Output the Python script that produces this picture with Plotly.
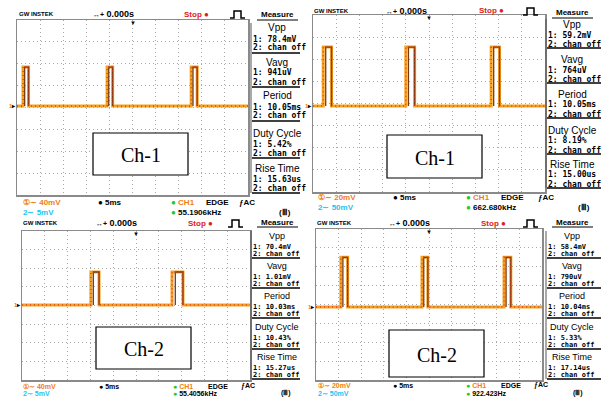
import plotly.graph_objects as go

# ---------------- data ----------------
TIME_RANGE_MS = [-25, 25]          # 10 div x 5 ms
TIMEBASE = "5ms"
VOLTS_PER_DIV = [40, 20, 40, 20]   # mV/div, CH1, per panel
CH1_SCALE = ["40mV", "20mV", "40mV", "20mV"]
CH2_SCALE = ["5mV", "50mV", "5mV", "50mV"]
FREQ = ["55.1906kHz", "662.680kHz", "55.4056kHz", "922.423Hz"]
LABELS = ["Ch-1", "Ch-1", "Ch-2", "Ch-2"]

P1_PULSE_START_MS = [-23.7, -5.5, 12.7]
P1_PULSE_WIDTH_MS = [1.2, 1.2, 1.3]
P2_PULSE_START_MS = [-22.8, -5.0, 13.4]
P2_PULSE_WIDTH_MS = [1.8, 1.9, 1.8]
P3_PULSE_START_MS = [-9.9, 7.9]
P3_PULSE_WIDTH_MS = [1.8, 2.4]
P4_PULSE_START_MS = [-19.5, -1.55, 16.6]
P4_PULSE_WIDTH_MS = [1.5, 1.3, 1.5]
BASE_MV = [2.7, -2.3, 1.0, -2.6]
TOP_MV = [74, 51, 72, 50]

MEAS_NAMES = ["Vpp", "Vavg", "Period", "Duty Cycle", "Rise Time"]
P1_MEAS = ["1: 78.4mV", "1: 941uV", "1: 10.05ms", "1: 5.42%", "1: 15.63us"]
P2_MEAS = ["1: 59.2mV", "1: 764uV", "1: 10.05ms", "1: 8.19%", "1: 15.00us"]
P3_MEAS = ["1: 70.4mV", "1: 1.01mV", "1: 10.03ms", "1: 10.43%", "1: 15.27us"]
P4_MEAS = ["1: 58.4mV", "1: 790uV", "1: 10.04ms", "1: 5.33%", "1: 17.14us"]
CH2_STATE = "2: chan off"

PULSE_STARTS = [P1_PULSE_START_MS, P2_PULSE_START_MS, P3_PULSE_START_MS, P4_PULSE_START_MS]
PULSE_WIDTHS = [P1_PULSE_WIDTH_MS, P2_PULSE_WIDTH_MS, P3_PULSE_WIDTH_MS, P4_PULSE_WIDTH_MS]
MEAS = [P1_MEAS, P2_MEAS, P3_MEAS, P4_MEAS]

# ---------------- layout geometry (pixels) ----------------
W, H = 602, 398
def fx(px): return px / W
def fy(py): return 1 - py / H

FRAMES = [  # left, right, top, bottom
    (17, 248, 20, 195),
    (313, 545, 15, 192),
    (22, 250, 231, 380),
    (316, 542, 229, 380),
]
HEADER_Y = [14, 11, 223, 223]
HEADER_X = [  # logo, time, stop, icon-left
    (18, 92, 183, 230),
    (313, 385, 478, 523),
    (22, 95, 187, 228),
    (316, 388, 480, 523),
]
MEAS_X = [252, 547, 252, 547]
MEAS_RIGHT = [300, 601, 300, 601]
MEAS_TITLE_Y = [15, 13, 222, 222]
MEAS_BLOCK_Y = [
    [29, 63, 97, 134, 169],
    [25, 60, 95, 131, 165],
    [237, 267, 297, 328, 358],
    [237, 267, 297, 328, 358],
]
MEAS_STEP = [(10, 19, 24), (10, 19, 23), (10, 17, 21), (10, 17, 21)]
FOOT_Y = [(202, 212), (197, 207), (386, 393), (385, 393)]
FOOT_X = [
    (22, 97, 170, 205, 238, 278),
    (317, 392, 465, 500, 537, 577),
    (22, 98, 172, 207, 240, 280),
    (317, 392, 465, 500, 533, 572),
]
BOXES = [(93, 188, 133, 175), (387, 482, 135, 178), (96, 191, 327, 369), (389, 484, 330, 377)]

ORANGE = "#F5A020"
RED = "#E3401A"
BROWN = "#7A3A12"
FONT = "Liberation Sans"
MONO = "DejaVu Sans Mono"

fig = go.Figure()
annotations = []
shapes = []

def txt(x, y, s, size=8, color="black", anchor="left", family=FONT, bold=True):
    if bold:
        s = "<b>" + s + "</b>"
    annotations.append(dict(x=fx(x), y=fy(y), xref="paper", yref="paper", text=s,
                            showarrow=False, xanchor=anchor, yanchor="middle", borderpad=0,
                            font=dict(size=size, color=color, family=family)))

def hline(x0, x1, y, color="black", width=1.5):
    shapes.append(dict(type="line", xref="paper", yref="paper", x0=fx(x0), x1=fx(x1),
                       y0=fy(y), y1=fy(y), line=dict(color=color, width=width)))

for i in range(4):
    L, R, T, B = FRAMES[i]
    vmax = 4 * VOLTS_PER_DIV[i]
    ax = "" if i == 0 else str(i + 1)
    base, top = BASE_MV[i], TOP_MV[i]

    # waveform built from pulse start/width values
    xs, ys = [TIME_RANGE_MS[0]], [base]
    ex, ey = [], []
    for s, w in zip(PULSE_STARTS[i], PULSE_WIDTHS[i]):
        xs += [s, s, s + w, s + w]
        ys += [base, top, top, base]
        ex += [s + 0.3 * w, s + 0.3 * w, s + w, s + w, None]
        ey += [base, top, top, base, None]
    xs.append(TIME_RANGE_MS[1])
    ys.append(base)

    fig.add_trace(go.Scatter(x=xs, y=ys, mode="lines", xaxis="x" + ax, yaxis="y" + ax,
                             line=dict(color=ORANGE, width=3), hoverinfo="skip"))
    fig.add_trace(go.Scatter(x=ex, y=ey, mode="lines", xaxis="x" + ax, yaxis="y" + ax,
                             line=dict(color=BROWN, width=1.3), hoverinfo="skip"))
    fig.add_trace(go.Scatter(x=xs, y=ys, mode="lines", xaxis="x" + ax, yaxis="y" + ax,
                             line=dict(color=RED, width=1.4, dash="1px,3px"), hoverinfo="skip"))

    axis_common = dict(showticklabels=False, ticks="", zeroline=False, showline=True,
                       mirror=True, linecolor="#8a8a8a", linewidth=1.5, showgrid=True,
                       gridcolor="#a8a8a8", gridwidth=1, griddash="1px,3px", fixedrange=True)
    fig.update_layout(**{
        "xaxis" + ax: dict(domain=[fx(L), fx(R)], range=TIME_RANGE_MS, dtick=5,
                           tick0=TIME_RANGE_MS[0], anchor="y" + ax, **axis_common),
        "yaxis" + ax: dict(domain=[fy(B), fy(T)], range=[-vmax, vmax],
                           dtick=VOLTS_PER_DIV[i], tick0=-vmax, anchor="x" + ax, **axis_common),
    })

    # header
    hy = HEADER_Y[i]
    lx, tx, sx, ix = HEADER_X[i]
    txt(lx, hy, "GW INSTEK", size=6)
    txt(tx, hy, "<span style='font-size:7px'>↔+</span> 0.000s", size=9)
    txt(sx, hy, "Stop ●", size=8, color="#E0201A")
    shapes.append(dict(type="path", xref="paper", yref="paper",
                       path="M {} {} L {} {} L {} {} L {} {} L {} {} L {} {}".format(
                           fx(ix), fy(hy + 4), fx(ix + 4), fy(hy + 4), fx(ix + 4), fy(hy - 3),
                           fx(ix + 11), fy(hy - 3), fx(ix + 11), fy(hy + 4), fx(ix + 15), fy(hy + 4)),
                       line=dict(color="black", width=1.5)))
    # trigger marker and ground marker
    txt((L + R) / 2, T + 3, "▼", size=6, anchor="center", bold=False)
    base_px = T + (vmax - base) / (2 * vmax) * (B - T)
    txt(L, base_px, "<span style='color:#F08010'>1</span>▸", size=6, anchor="right")

    # measure column
    mx, mr = MEAS_X[i], MEAS_RIGHT[i]
    mid = mx + 25
    txt(mid, MEAS_TITLE_Y[i], "Measure", size=8, anchor="center")
    hline(mx + 5, mx + 46, MEAS_TITLE_Y[i] + 5, width=1)
    d1, d2, dl = MEAS_STEP[i]
    tsize = 10 if i < 2 else 9
    vsize = 8 if i < 2 else 7
    for name, val, by in zip(MEAS_NAMES, MEAS[i], MEAS_BLOCK_Y[i]):
        txt(mid, by - 1, name, size=tsize, anchor="center", bold=False)
        txt(mx, by + d1, val, size=vsize, family=MONO)
        txt(mx, by + d2, CH2_STATE, size=vsize, family=MONO)
        hline(mx, mr, by + dl, width=1.5)
    shapes.append(dict(type="line", xref="paper", yref="paper", x0=fx(mx - 1), x1=fx(mx - 1),
                       y0=fy(MEAS_BLOCK_Y[i][0] - 6), y1=fy(MEAS_BLOCK_Y[i][-1] + dl),
                       line=dict(color="#555555", width=1)))

    # footer
    f1, f2 = FOOT_Y[i]
    a, b, c, d, e, g = FOOT_X[i]
    fs = 8 if i < 2 else 7
    txt(a, f1, "①∼ " + CH1_SCALE[i], size=fs, color="#F08010")
    txt(a, f2, "2∼ " + CH2_SCALE[i], size=fs, color="#22C4F0")
    txt(b, f1, "● " + TIMEBASE, size=fs)
    txt(c, f1, "<span style='color:#22CC22'>●</span> <span style='color:#F08010'>CH1</span>", size=fs)
    txt(d, f1, "EDGE", size=fs)
    txt(e, f1, "ƒAC", size=fs)
    txt(c, f2, "<span style='color:#22CC22'>●</span> " + FREQ[i], size=fs)
    txt(g, f2, "(Ⅲ)", size=fs)

    # label box
    bl, br, bt, bb = BOXES[i]
    shapes.append(dict(type="rect", xref="paper", yref="paper", x0=fx(bl), x1=fx(br),
                       y0=fy(bb), y1=fy(bt), line=dict(color="black", width=1.2),
                       fillcolor="white", layer="above"))
    txt((bl + br) / 2, (bt + bb) / 2 + 1, LABELS[i], size=20, anchor="center",
        family="Liberation Serif", bold=False)

fig.update_layout(width=W, height=H, margin=dict(l=0, r=0, t=0, b=0), autosize=False,
                  paper_bgcolor="white", plot_bgcolor="white", showlegend=False,
                  annotations=annotations, shapes=shapes)

fig.write_html("out.html", config={"displayModeBar": False, "staticPlot": True},
               post_script="document.body.style.margin='0';")
